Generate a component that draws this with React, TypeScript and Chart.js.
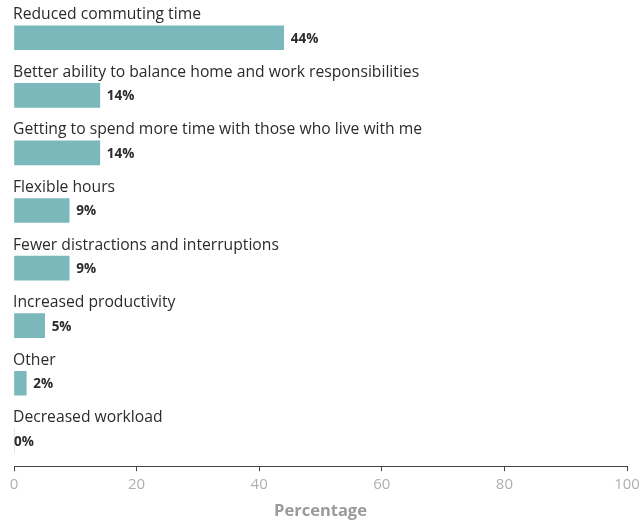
import React, { useEffect, useRef } from "react";
import { Chart, registerables } from "chart.js";

Chart.register(...registerables);

const categories = [
  "Reduced commuting time",
  "Better ability to balance home and work responsibilities",
  "Getting to spend more time with those who live with me",
  "Flexible hours",
  "Fewer distractions and interruptions",
  "Increased productivity",
  "Other",
  "Decreased workload",
];
const values = [44, 14, 14, 9, 9, 5, 2, 0];
const xTicks = [0, 20, 40, 60, 80, 100];

const FONT = "'Open Sans', Lato, sans-serif";

const labelPlugin = {
  id: "barLabels",
  afterDatasetsDraw(chart: any) {
    const ctx = chart.ctx;
    const meta = chart.getDatasetMeta(0);
    const xScale = chart.scales.x;
    ctx.save();
    meta.data.forEach((bar: any, i: number) => {
      const v = values[i];
      ctx.font = `400 15.7px ${FONT}`;
      ctx.fillStyle = "#2b2b2b";
      ctx.textAlign = "left";
      ctx.textBaseline = "middle";
      ctx.fillText(categories[i], xScale.left - 1, bar.y - 23);
      ctx.font = `700 13.5px ${FONT}`;
      ctx.fillStyle = "#2b2b2b";
      const x = bar.x + (v > 0 ? 7 : 0);
      ctx.fillText(`${v}%`, x, bar.y + 1);
    });
    ctx.restore();
  },
};

export default function App() {
  const ref = useRef<HTMLCanvasElement>(null);
  useEffect(() => {
    document.body.style.margin = "0";
    const chart = new Chart(ref.current!, {
      type: "bar",
      data: {
        labels: categories,
        datasets: [
          {
            data: values,
            backgroundColor: "#7ab8bc",
            barThickness: 24,
            borderWidth: 0,
          },
        ],
      },
      options: {
        indexAxis: "y",
        animation: false,
        responsive: false,
        maintainAspectRatio: false,
        layout: { padding: { top: 9, left: 14, right: 14, bottom: 0 } },
        plugins: {
          legend: { display: false },
          tooltip: { enabled: false },
        },
        scales: {
          y: {
            display: false,
            offset: true,
            afterBuildTicks(scale: any) {
              // leave a little extra room below the last bar
              scale._valueRange = categories.length - 0.06;
            },
          },
          x: {
            min: 0,
            max: 100,
            afterBuildTicks(scale: any) {
              scale.ticks = xTicks.map((v) => ({ value: v }));
            },
            afterFit(scale: any) {
              scale.paddingLeft = 0;
              scale.paddingRight = 0;
            },
            grid: {
              drawOnChartArea: false,
              drawTicks: true,
              tickLength: 5,
              color: "#444",
            },
            border: { display: true, color: "#444", width: 1 },
            ticks: {
              padding: 4.5,
              color: "#b0b0b0",
              font: { family: FONT, size: 15 },
              maxRotation: 0,
            },
            title: {
              display: true,
              text: "Percentage",
              color: "#9a9a9a",
              font: { family: FONT, size: 16.5, weight: "bold" },
              padding: { top: 3, bottom: 0 },
            },
          },
        },
      },
      plugins: [labelPlugin],
    });
    return () => chart.destroy();
  }, []);
  return (
    <div style={{ position: "absolute", left: 0, top: 0, width: 641, height: 521, background: "#fff" }}>
      <canvas ref={ref} width={641} height={521} />
    </div>
  );
}
